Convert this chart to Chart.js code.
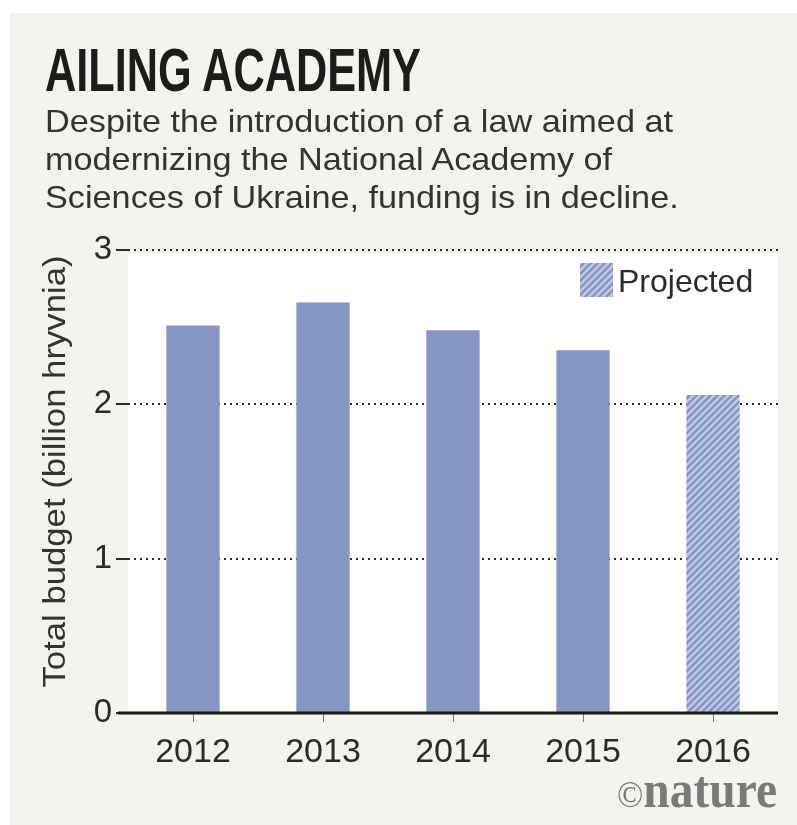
<!DOCTYPE html>
<html>
<head>
<meta charset="utf-8">
<script src="https://cdn.jsdelivr.net/npm/chart.js@4.4.1/dist/chart.umd.min.js"></script>
<style>
  html, body { margin: 0; padding: 0; background: #ffffff; }
  body { width: 797px; height: 825px; position: relative; overflow: hidden; }
  #card { position: absolute; left: 10px; top: 13px; width: 787px; height: 812px; background: #f4f3ee; }
  #chart { position: absolute; left: 0; top: 0; }
  .txt { position: absolute; white-space: nowrap; display: inline-block; transform-origin: 0 0; }
  #title { left: 45px; top: 39px; font: bold 62px/62px "Liberation Sans Narrow", "Liberation Sans", sans-serif; color: #1c1c1c; }
  .sub { left: 45px; font: 32px/38px "Liberation Sans", sans-serif; color: #333333; }
  #logo { left: 617px; top: 764px; font: bold 52px/52px "Liberation Serif", serif; color: #7a7a7a; }
  #logo span { font-size: 38px; font-weight: normal; }
</style>
</head>
<body>
<div id="card"></div>
<canvas id="chart" width="797" height="825"></canvas>
<div class="txt" id="title">AILING ACADEMY</div>
<div class="txt sub" id="sub1" style="top:102px">Despite the introduction of a law aimed at</div>
<div class="txt sub" id="sub2" style="top:140px">modernizing the National Academy of</div>
<div class="txt sub" id="sub3" style="top:178px">Sciences of Ukraine, funding is in decline.</div>
<div class="txt" id="logo"><span>©</span>nature</div>
<script>
// data
const years = ['2012', '2013', '2014', '2015', '2016'];
const budget = [2.51, 2.66, 2.48, 2.35, 2.06];
const projected = [false, false, false, false, true];
const yTicks = [0, 1, 2, 3];
const yTitle = 'Total budget (billion hryvnia)';
const legendLabel = 'Projected';

const barColor = '#8596c4';
const hatchLight = '#c0c9e6';
const textColor = '#2b2b2b';

// squeeze text to the widths seen in the picture
function fit(id, w) {
  const el = document.getElementById(id);
  const r = el.getBoundingClientRect().width;
  el.style.transform = 'scaleX(' + (w / r) + ')';
  return w / r;
}
fit('title', 376);
const k = fit('sub1', 628);
document.getElementById('sub2').style.transform = 'scaleX(' + k + ')';
document.getElementById('sub3').style.transform = 'scaleX(' + k + ')';
fit('logo', 160);

const canvas = document.getElementById('chart');
const ctx = canvas.getContext('2d');

function makeHatch() {
  const c = document.createElement('canvas');
  c.width = 7; c.height = 7;
  const g = c.getContext('2d');
  g.fillStyle = hatchLight;
  g.fillRect(0, 0, 7, 7);
  g.strokeStyle = barColor;
  g.lineWidth = 2.6;
  g.beginPath();
  g.moveTo(-1, 8); g.lineTo(8, -1);
  g.moveTo(-4, 4); g.lineTo(4, -4);
  g.moveTo(3, 11); g.lineTo(11, 3);
  g.stroke();
  return ctx.createPattern(c, 'repeat');
}
const hatch = makeHatch();

const plotBg = {
  id: 'plotBg',
  beforeDraw(chart) {
    const a = chart.chartArea;
    const c = chart.ctx;
    c.save();
    c.fillStyle = '#ffffff';
    c.fillRect(a.left, a.top + 2, a.right - a.left, a.bottom - a.top - 2);
    c.restore();
  }
};

const extras = {
  id: 'extras',
  afterDraw(chart) {
    const a = chart.chartArea;
    const c = chart.ctx;
    c.save();
    // base line
    c.strokeStyle = '#1a1a1a';
    c.lineWidth = 3;
    c.beginPath();
    c.moveTo(a.left - 10, a.bottom);
    c.lineTo(a.right, a.bottom);
    c.stroke();
    // y title, stretched to the length in the picture
    c.translate(a.left - 72, (a.top + a.bottom) / 2 - 10);
    c.rotate(-Math.PI / 2);
    c.fillStyle = '#333333';
    c.font = '31px "Liberation Sans", sans-serif';
    c.scale(432 / c.measureText(yTitle).width, 1);
    c.textAlign = 'center';
    c.textBaseline = 'middle';
    c.fillText(yTitle, 0, 0);
    c.restore();
    // legend
    c.save();
    c.fillStyle = hatch;
    c.fillRect(a.right - 198, a.top + 13, 33, 34);
    c.fillStyle = textColor;
    c.font = '32px "Liberation Sans", sans-serif';
    c.textBaseline = 'alphabetic';
    c.fillText(legendLabel, a.right - 160, a.top + 42);
    c.restore();
  }
};

new Chart(ctx, {
  type: 'bar',
  data: {
    labels: years,
    datasets: [{
      data: budget,
      backgroundColor: projected.map(p => p ? hatch : barColor),
      borderWidth: 0,
      barPercentage: 0.41,
      categoryPercentage: 1
    }]
  },
  options: {
    responsive: false,
    devicePixelRatio: 1,
    animation: false,
    layout: { padding: { top: 250, right: 19, left: 0, bottom: 0 } },
    plugins: { legend: { display: false }, tooltip: { enabled: false } },
    scales: {
      x: {
        afterFit: s => { s.height = 112; },
        grid: {
          offset: false,
          drawOnChartArea: false,
          drawTicks: true,
          tickLength: 9,
          color: '#777777',
          lineWidth: 1
        },
        border: { display: false },
        ticks: {
          color: textColor,
          font: { family: '"Liberation Sans", sans-serif', size: 34 },
          padding: 10,
          maxRotation: 0
        }
      },
      y: {
        min: 0,
        max: 3,
        afterFit: s => { s.width = 128; },
        afterBuildTicks: s => { s.ticks = yTicks.map(v => ({ value: v })); },
        grid: {
          color: '#2a2a2a',
          lineWidth: 2,
          tickLength: 12,
          drawTicks: true
        },
        border: { display: false, dash: [2, 4] },
        ticks: {
          color: textColor,
          font: { family: '"Liberation Sans", sans-serif', size: 33 },
          padding: 4
        }
      }
    }
  },
  plugins: [plotBg, extras]
});
</script>
</body>
</html>
